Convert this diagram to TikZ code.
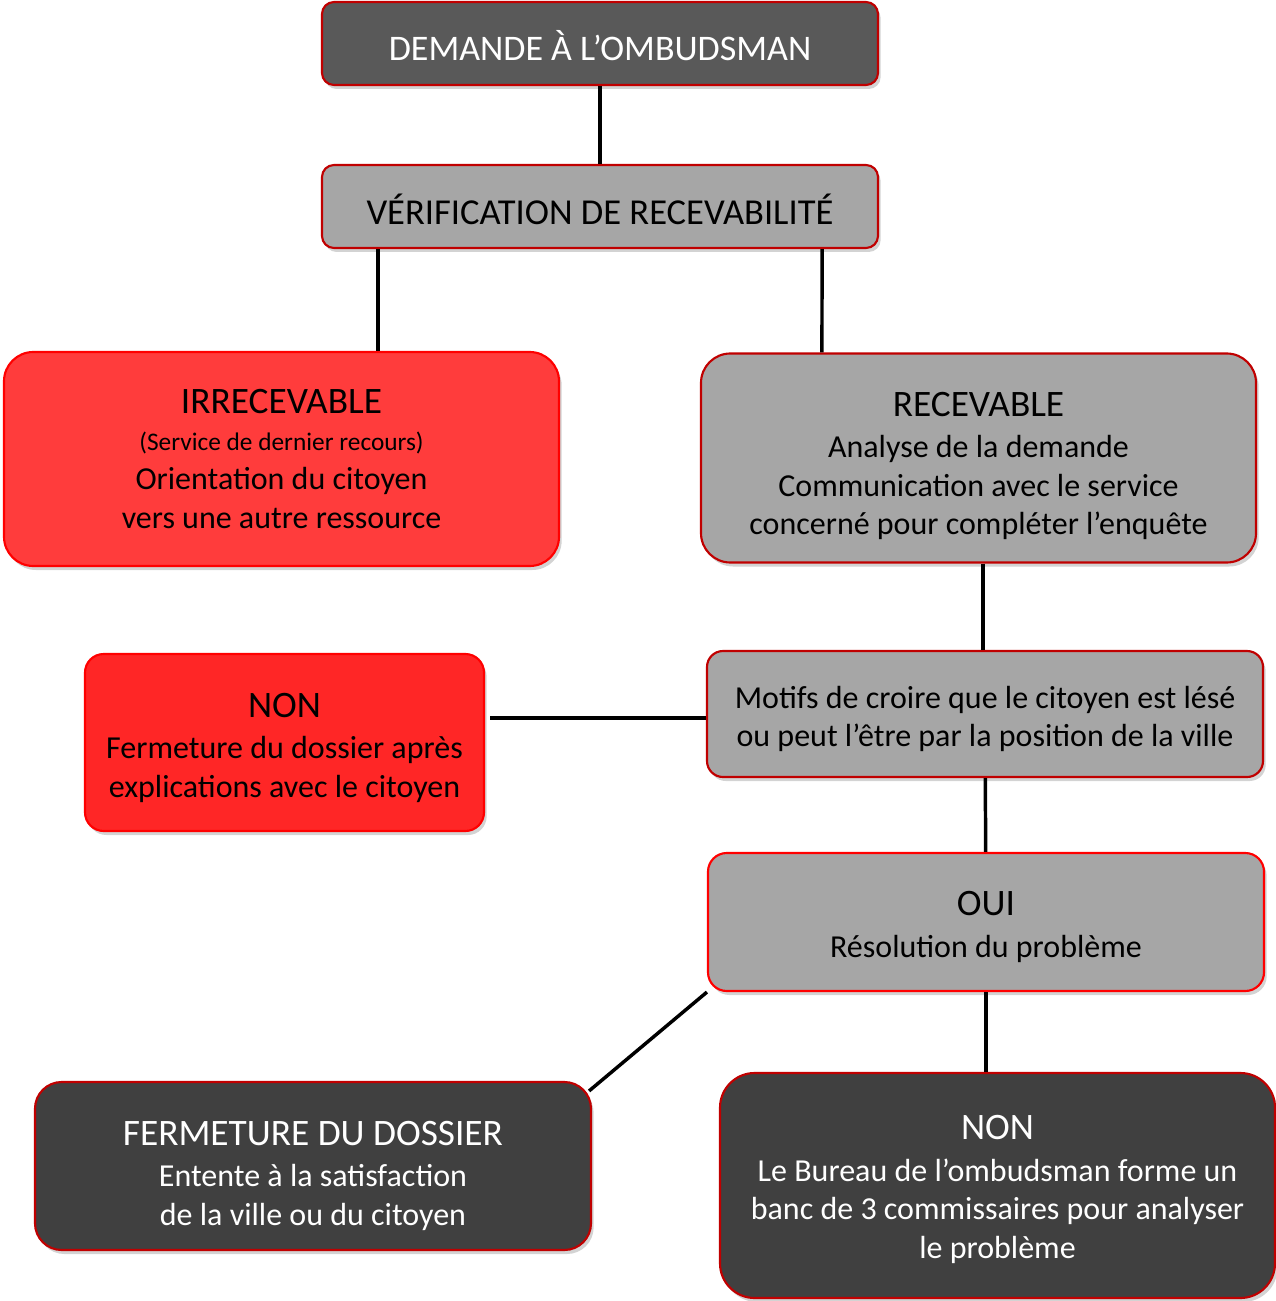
\documentclass[tikz,border=0pt]{standalone}
\usepackage{fontspec}
\setmainfont{Carlito}
\usetikzlibrary{shadows}

\definecolor{ombdark}{HTML}{595959}
\definecolor{ombgray}{HTML}{A6A6A6}
\definecolor{ombblack}{HTML}{404040}
\definecolor{ombred}{HTML}{FF3C3C}
\definecolor{ombredB}{HTML}{FF2626}
\definecolor{ombline}{HTML}{C00000}

\newcommand{\ttl}[1]{{\fontsize{28}{31}\selectfont #1}}

\tikzset{
  ombbox/.style={draw=ombline,line width=1.6pt,inner sep=0pt,
    drop shadow={shadow xshift=2pt,shadow yshift=-3pt,opacity=0.35}},
  ombtext/.style={align=center,inner sep=0pt,font=\fontsize{24}{29}\selectfont},
  link/.style={line width=2.6pt}
}

\begin{document}
\begin{tikzpicture}[x=0.75pt,y=-0.75pt]
	\useasboundingbox (0,0) rectangle (1276,1301);
	% top of the chart
	\node[ombbox,fill=ombdark,rounded corners=9pt,minimum width=417pt,minimum height=62.25pt] (dem) at (600,43.5) {};
	\node[ombtext,text=white,font=\fontsize{27}{30}\selectfont] (demT) at ([yshift=-1.5pt]dem.center) {DEMANDE À L’OMBUDSMAN};
	\node[ombbox,fill=ombgray,rounded corners=9pt,minimum width=417pt,minimum height=62.25pt] (verif) at (600,206.5) {};
	\node[ombtext,font=\fontsize{27.4}{30}\selectfont] (verifT) at ([yshift=-2.25pt]verif.center) {VÉRIFICATION DE RECEVABILITÉ};
	% first answer
	\node[ombbox,fill=ombred,draw=red,rounded corners=22pt,minimum width=416.25pt,minimum height=160.5pt] (irrec) at (281.5,459) {};
	\node[ombtext] (irrecT) at (irrec.center) {\ttl{IRRECEVABLE}\\[-1.25pt]{\fontsize{19}{29}\selectfont (Service de dernier recours)}\\Orientation du citoyen\\vers une autre ressource};
	\node[ombbox,fill=ombgray,rounded corners=22pt,minimum width=416.25pt,minimum height=156.75pt] (recev) at (978.5,458) {};
	\node[ombtext] (recevT) at ([yshift=-6pt]recev.center) {\ttl{RECEVABLE}\\[2pt]Analyse de la demande\\Communication avec le service\\concerné pour compléter l’enquête};
	% analysis
	\node[ombbox,fill=ombgray,rounded corners=12pt,minimum width=417pt,minimum height=94.5pt] (motifs) at (985,714) {};
	\node[ombtext] (motifsT) at ([yshift=-3.75pt]motifs.center) {Motifs de croire que le citoyen est lésé\\ou peut l’être par la position de la ville};
	\node[ombbox,fill=ombredB,draw=red,rounded corners=14pt,minimum width=299.25pt,minimum height=132.75pt] (nonA) at (284.5,742.5) {};
	\node[ombtext] (nonAT) at ([yshift=-4pt]nonA.center) {\ttl{NON}\\[2pt]Fermeture du dossier après\\explications avec le citoyen};
	\node[ombbox,fill=ombgray,draw=red,rounded corners=14pt,minimum width=417pt,minimum height=103.5pt] (oui) at (986,922) {};
	\node[ombtext] (ouiT) at ([yshift=-3.75pt]oui.center) {\ttl{OUI}\\[2pt]Résolution du problème};
	% end of the chart
	\node[ombbox,fill=ombblack,rounded corners=20pt,minimum width=417pt,minimum height=126pt] (ferm) at (313,1166) {};
	\node[ombtext,text=white] (fermT) at ([yshift=-7.5pt]ferm.center) {\ttl{FERMETURE DU DOSSIER}\\[2pt]Entente à la satisfaction\\de la ville ou du citoyen};
	\node[ombbox,fill=ombblack,rounded corners=26pt,minimum width=416.25pt,minimum height=168.75pt] (nonB) at (997.5,1185.5) {};
	\node[ombtext,text=white] (nonBT) at ([yshift=-3pt]nonB.center) {\ttl{NON}\\[2pt]Le Bureau de l’ombudsman forme un\\banc de 3 commissaires pour analyser\\le problème};

	\draw[link] (dem) -- (verif);
	\draw[link] ([xshift=42.75pt]verif.south west) -- ([xshift=281.25pt]irrec.north west);
	\draw[link] ([xshift=-42.75pt]verif.south east) -- ([xshift=91.5pt]recev.north west);
	\draw[link] ([xshift=3.4pt]recev.south) -- ([xshift=3.4pt]recev.south |- motifs.north);
	\draw[link] ([yshift=-3pt]motifs.west) -- ([yshift=-3pt,xshift=4pt]motifs.west -| nonA.east);
	\draw[link] (motifs) -- (oui);
	\draw[link] (oui.south west) -- ([xshift=-2.25pt,yshift=-7.5pt]ferm.north east);
	\draw[link] (oui.south) -- (oui.south |- nonB.north);
\end{tikzpicture}
\end{document}
